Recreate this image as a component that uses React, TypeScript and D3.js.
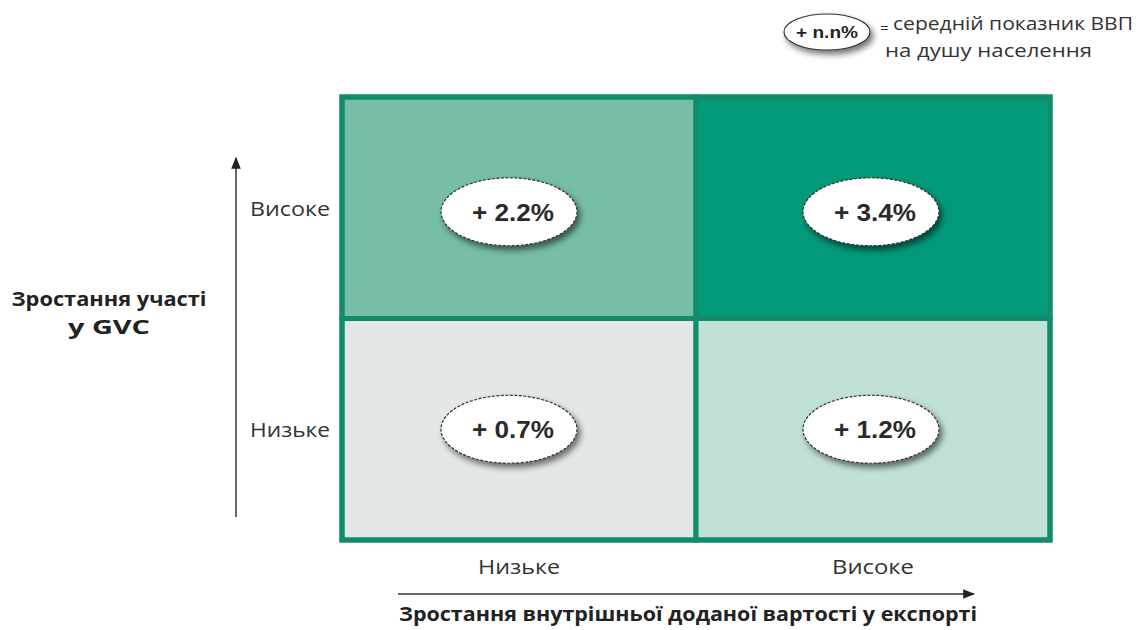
import React from "react";
import * as d3 from "d3";

const levels = ["Низьке", "Високе"];
const cellValues = [
  { x: "Низьке", y: "Високе", value: "+ 2.2%", fill: "#76bea8" },
  { x: "Високе", y: "Високе", value: "+ 3.4%", fill: "#039a79" },
  { x: "Низьке", y: "Низьке", value: "+ 0.7%", fill: "#e4e7e7" },
  { x: "Високе", y: "Низьке", value: "+ 1.2%", fill: "#c1e1d7" },
];
const yTitle = ["Зростання участі", "у GVC"];
const xTitle = "Зростання внутрішньої доданої вартості у експорті";
const legendText = ["середній показник ВВП", "на душу населення"];
const legendSample = "+ n.n%";

const W = 1148;
const H = 630;
const grid = { left: 342, right: 1050, top: 97, bottom: 540 };

export default function App() {
  const x = d3.scaleBand().domain(levels).range([grid.left, grid.right]);
  const y = d3.scaleBand().domain([...levels].reverse()).range([grid.top, grid.bottom]);
  const bw = x.bandwidth();
  const bh = y.bandwidth();
  const label = "'Open Sans', 'DejaVu Sans', sans-serif";
  const num = "'Liberation Sans', Arial, sans-serif";
  const fit = { lengthAdjust: "spacingAndGlyphs" as const };

  return (
    <svg width={W} height={H} style={{ position: "absolute", left: 0, top: 0, background: "#fff" }}>
      <defs>
        <filter id="sh" x="-30%" y="-40%" width="160%" height="190%">
          <feDropShadow dx="3" dy="4" stdDeviation="3" floodColor="#000" floodOpacity="0.55" />
        </filter>
        <marker id="ah" viewBox="0 0 10 10" refX="9" refY="5" markerWidth="8" markerHeight="8" orient="auto">
          <path d="M0,1 L10,5 L0,9 Z" fill="#222" />
        </marker>
      </defs>

      {/* legend */}
      <g>
        <ellipse cx={827} cy={32} rx={43} ry={18} fill="#fff" stroke="#333" strokeWidth={1.2} filter="url(#sh)" />
        <text x={827} y={38} textAnchor="middle" fontFamily={num} fontWeight="bold" fontSize={17} fill="#222" textLength={62} {...fit}>{legendSample}</text>
        <text x={880} y={33} fontFamily={label} fontSize={15} fill="#333">=</text>
        <text x={893} y={30} fontFamily={label} fontSize={18} fill="#333" textLength={240} {...fit}>{legendText[0]}</text>
        <text x={885} y={57} fontFamily={label} fontSize={18} fill="#333" textLength={207} {...fit}>{legendText[1]}</text>
      </g>

      {/* cells */}
      {cellValues.map((c) => (
        <rect key={c.value} x={x(c.x)} y={y(c.y)} width={bw} height={bh} fill={c.fill} stroke="#118c6b" strokeWidth={5} />
      ))}
      <rect x={grid.left} y={grid.top} width={grid.right - grid.left} height={grid.bottom - grid.top} fill="none" stroke="#118c6b" strokeWidth={5} />

      {cellValues.map((c) => {
        const cx = (x(c.x) as number) + bw / 2 - (c.x === "Низьке" ? 10 : 2);
        const cy = (y(c.y) as number) + bh / 2 + (c.y === "Високе" ? 4 : 0);
        return (
          <g key={"e" + c.value}>
            <ellipse cx={cx} cy={cy} rx={68} ry={34} fill="#fff" stroke="#333" strokeWidth={1.2} strokeDasharray="3,1.5" filter="url(#sh)" />
            <text x={cx + 4} y={cy + 9} textAnchor="middle" fontFamily={num} fontWeight="bold" fontSize={24} fill="#2a2a2a" textLength={82} {...fit}>{c.value}</text>
          </g>
        );
      })}

      {/* y axis */}
      <line x1={236} y1={517} x2={236} y2={158} stroke="#333" strokeWidth={1.5} markerEnd="url(#ah)" />
      {levels.map((l) => (
        <text key={"y" + l} x={330} y={(y(l) as number) + bh / 2 + 8} textAnchor="end" fontFamily={label} fontSize={20} fill="#333" textLength={80} {...fit}>{l}</text>
      ))}
      {yTitle.map((t, i) => (
        <text key={t} x={109} y={306 + i * 28} textAnchor="middle" fontFamily={label} fontWeight="bold" fontSize={20} fill="#222" textLength={i === 0 ? 195 : 82} {...fit}>{t}</text>
      ))}

      {/* x axis */}
      {levels.map((l) => (
        <text key={"x" + l} x={(x(l) as number) + bw / 2} y={574} textAnchor="middle" fontFamily={label} fontSize={20} fill="#333" textLength={82} {...fit}>{l}</text>
      ))}
      <line x1={398} y1={594} x2={974} y2={594} stroke="#333" strokeWidth={1.5} markerEnd="url(#ah)" />
      <text x={688} y={621} textAnchor="middle" fontFamily={label} fontWeight="bold" fontSize={20} fill="#222" textLength={578} {...fit}>{xTitle}</text>
    </svg>
  );
}
